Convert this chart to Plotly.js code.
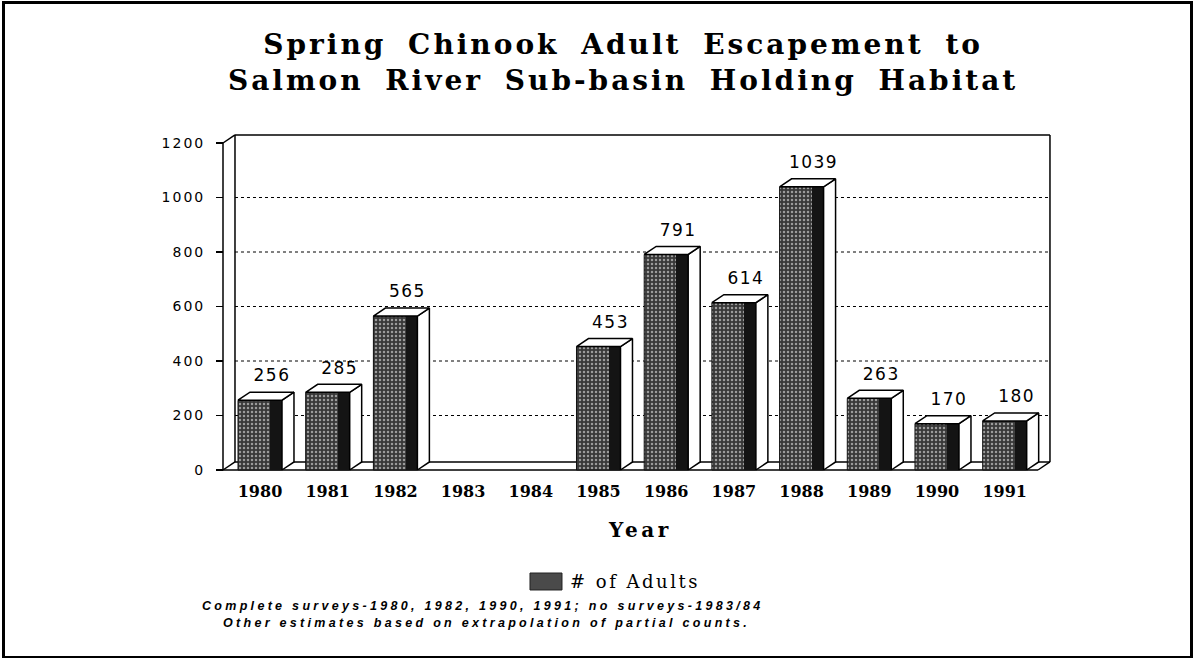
<!DOCTYPE html>
<html>
<head>
<meta charset="utf-8">
<script src="https://cdn.plot.ly/plotly-3.0.1.min.js"></script>
<style>
  html, body { margin: 0; padding: 0; background: #fff; }
  #chart { width: 1196px; height: 659px; }
  #frame { position: absolute; left: 2px; top: 1px; width: 1191px; height: 657px;
           border-top: 3px solid #000; border-left: 3px solid #000; border-right: 3px solid #000;
           border-bottom: 2px solid #000; box-sizing: border-box; pointer-events: none; }
  .ytick text { letter-spacing: 2px; }
  .textpoint text { letter-spacing: 1.5px; }
</style>
</head>
<body>
<div id="chart"></div>
<div id="frame"></div>
<script>
// ---- data ----
const years = ['1980','1981','1982','1983','1984','1985','1986','1987','1988','1989','1990','1991'];
const adults = [256, 285, 565, null, null, 453, 791, 614, 1039, 263, 170, 180];
const yTicks = [0, 200, 400, 600, 800, 1000, 1200];
const seriesName = '# of Adults';

// ---- geometry of the pseudo-3D frame (axis units) ----
const X0 = -0.5465;   // front plane left edge
const XR = 11.669;    // back wall right edge
const DX = 0.177;     // depth offset in x
const DY = 29.4;      // depth offset in y
const BW = 0.65;      // bar width
const LABEL_GAP = 24; // label lift above bar top (y units)
const xIdx = years.map((_, i) => i);

// 3D faces for each bar
const topX = [], topY = [], sideX = [], sideY = [];
const labX = [], labY = [], labT = [];
xIdx.forEach((i) => {
  const v = adults[i];
  if (v === null) return;
  const l = i - BW / 2, r = i + BW / 2;
  topX.push(l, l + DX, r + DX, r, l, null);
  topY.push(v, v + DY, v + DY, v, v, null);
  sideX.push(r, r + DX, r + DX, r, r, null);
  sideY.push(0, DY, v + DY, v, 0, null);
  labX.push(i + DX);
  labY.push(v + DY + LABEL_GAP);
  labT.push(String(v));
});

const traces = [
  {
    type: 'bar', x: xIdx, y: adults, width: BW, name: seriesName,
    marker: { color: '#383838', line: { color: '#111', width: 1 },
      pattern: { shape: '.', bgcolor: '#383838', fgcolor: '#9c9c9c', size: 4, solidity: 0.3, fillmode: 'replace' } },
    showlegend: false, hoverinfo: 'x+y'
  },
  {
    type: 'bar', x: xIdx.map(i => i + BW / 2 - 0.09), y: adults, width: 0.17,
    marker: { color: '#141414' }, showlegend: false, hoverinfo: 'skip'
  },
  {
    type: 'scatter', mode: 'lines', x: sideX, y: sideY, fill: 'toself', fillcolor: '#ffffff',
    line: { color: '#000', width: 1.5 }, showlegend: false, hoverinfo: 'skip'
  },
  {
    type: 'scatter', mode: 'lines', x: topX, y: topY, fill: 'toself', fillcolor: '#ffffff',
    line: { color: '#000', width: 1.5 }, showlegend: false, hoverinfo: 'skip'
  },
  {
    type: 'scatter', mode: 'text', x: labX, y: labY, text: labT, textposition: 'top center',
    textfont: { family: 'DejaVu Sans', size: 17, color: '#000' }, showlegend: false, hoverinfo: 'skip',
    cliponaxis: false
  }
];

// frame shapes
const ln = (x0, y0, x1, y1, extra) => Object.assign({ type: 'line', xref: 'x', yref: 'y', x0, y0, x1, y1,
  line: { color: '#000', width: 1.5 }, layer: 'below' }, extra || {});
const shapes = [
  ln(X0, 0, X0, 1200),
  ln(X0, 1200, X0 + DX, 1200 + DY),
  ln(X0 + DX, 1200 + DY, XR, 1200 + DY),
  ln(XR, DY, XR, 1200 + DY),
  ln(X0 + DX, DY, X0 + DX, 1200 + DY),
  ln(X0 + DX, DY, XR, DY),
  ln(X0, 0, XR - DX, 0),
  ln(X0, 0, X0 + DX, DY),
  ln(XR - DX, 0, XR, DY)
];
yTicks.filter(t => t > 0 && t < 1200).forEach(t => {
  shapes.push(ln(X0 + DX, t, XR, t, { line: { color: '#000', width: 1, dash: 'dot' } }));
});
// legend swatch
shapes.push({ type: 'rect', xref: 'paper', yref: 'paper', x0: 0.3723, x1: 0.4105, y0: -0.3372, y1: -0.2878,
  fillcolor: '#4a4a4a', line: { color: '#222', width: 1 } });

const serif = 'DejaVu Serif';
const layout = {
  width: 1196, height: 659,
  margin: { l: 218, r: 140, t: 130, b: 185 },
  paper_bgcolor: '#fff', plot_bgcolor: '#fff',
  title: {
    text: '<span style="letter-spacing:3px;word-spacing:9px">Spring Chinook Adult Escapement to<br>Salmon River Sub-basin Holding Habitat</span>',
    font: { family: serif, size: 28, color: '#000', weight: 'bold' },
    xref: 'container', yref: 'container', x: 0.521, xanchor: 'center', y: 0.918, yanchor: 'top'
  },
  xaxis: {
    range: [-0.6204, 11.758], showgrid: false, zeroline: false, showline: false,
    tickvals: xIdx, ticktext: years, ticks: '', ticklabelstandoff: 6,
    tickfont: { family: serif, size: 16, color: '#000', weight: 'bold' }
  },
  yaxis: {
    range: [-14.68, 1247.7], tickvals: yTicks, showgrid: false, zeroline: false, showline: false,
    anchor: 'free', position: 0.006,
    ticks: 'outside', ticklen: 7, tickwidth: 1.5, tickcolor: '#000', ticklabelstandoff: 8,
    tickfont: { family: 'DejaVu Sans', size: 14, color: '#000' }
  },
  barmode: 'overlay',
  bargap: 0,
  shapes: shapes,
  annotations: [
    { text: '<span style="letter-spacing:3.5px">Year</span>', xref: 'paper', yref: 'paper', x: 0.5036, y: -0.163,
      xanchor: 'center', yanchor: 'middle', showarrow: false,
      font: { family: serif, size: 20, color: '#000', weight: 'bold' } },
    { text: '<span style="letter-spacing:2.5px">' + seriesName + '</span>', xref: 'paper', yref: 'paper', x: 0.4177, y: -0.3125,
      xanchor: 'left', yanchor: 'middle', showarrow: false,
      font: { family: serif, size: 18, color: '#000' } },
    { text: '<span style="letter-spacing:3.3px">Complete surveys-1980, 1982, 1990, 1991; no surveys-1983/84</span>',
      xref: 'paper', yref: 'paper', x: 0.316, y: -0.3826, xanchor: 'center', yanchor: 'middle', showarrow: false,
      font: { family: 'Liberation Sans', size: 12.5, color: '#000', weight: 'bold', style: 'italic' } },
    { text: '<span style="letter-spacing:3.3px">Other estimates based on extrapolation of partial counts.</span>',
      xref: 'paper', yref: 'paper', x: 0.3208, y: -0.432, xanchor: 'center', yanchor: 'middle', showarrow: false,
      font: { family: 'Liberation Sans', size: 12.5, color: '#000', weight: 'bold', style: 'italic' } }
  ]
};

Plotly.newPlot('chart', traces, layout, { displayModeBar: false, staticPlot: true });
</script>
</body>
</html>
